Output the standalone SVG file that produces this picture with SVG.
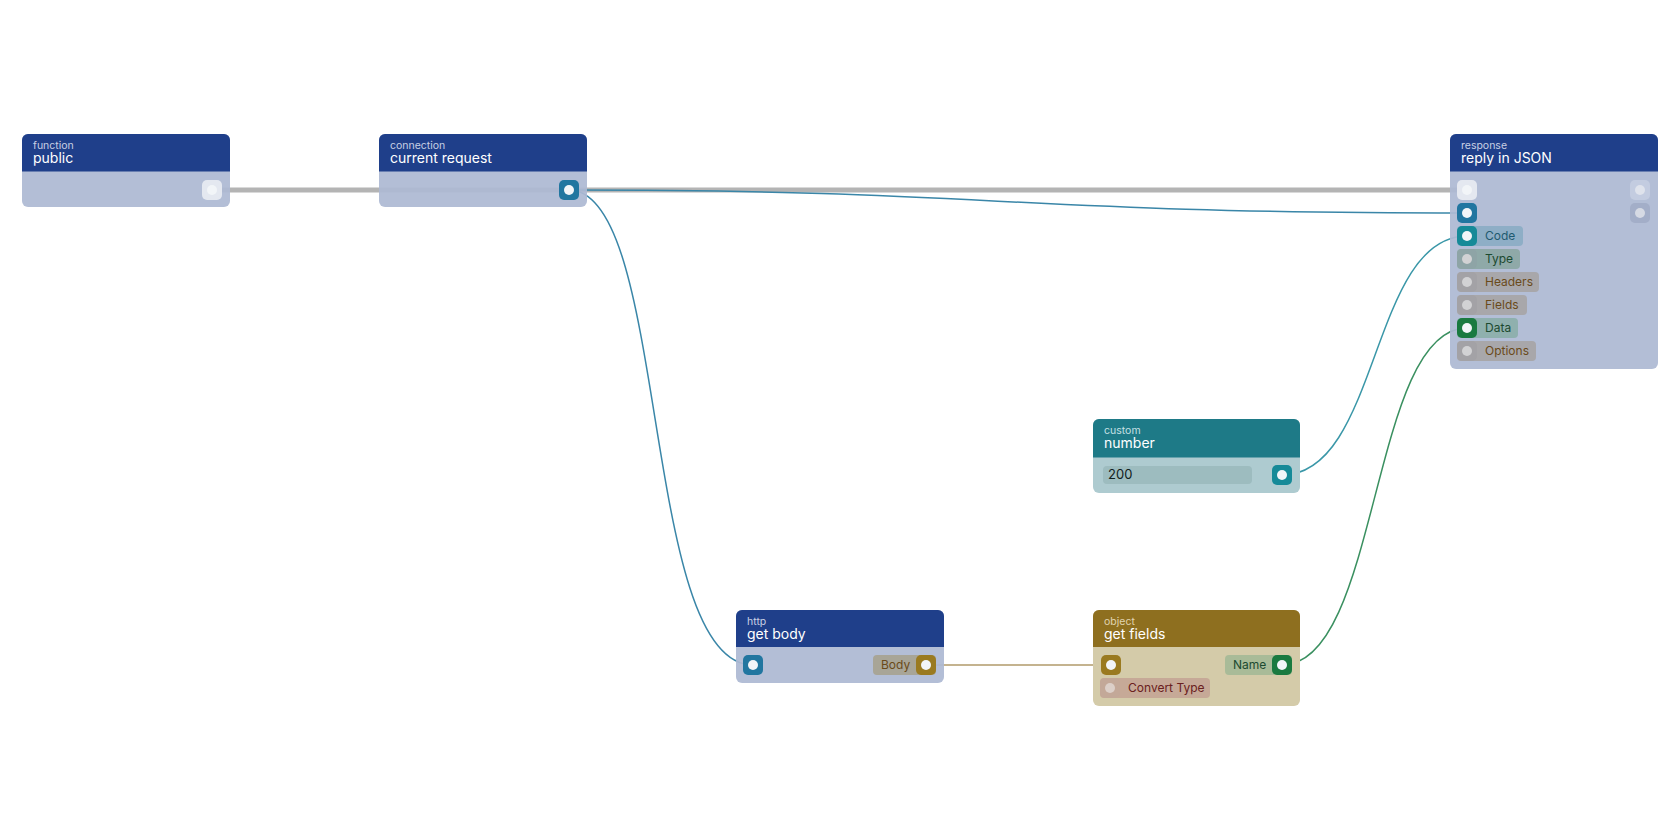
<svg xmlns="http://www.w3.org/2000/svg" width="1680" height="840" viewBox="0 0 1680 840">
<style>
text{font-family:Inter,"Noto Sans",sans-serif}
.k{font-size:10.5px;fill:#c8d0e4}
.t{font-size:14px;fill:#fff}
.l{font-size:12px}
.hb{fill:#1f3f8a}.bb{fill:#adb9d3;fill-opacity:0.93}
.c{fill:none}
.dot{fill:#f2f5f8}
.idot{fill:#d2d2d4}
</style>
<rect width="1680" height="840" fill="#fff"/>
<g id="connectors" class="c">
<path d="M212 190H1467" stroke="#b4b4b4" stroke-width="5"/>
<path d="M569 190C1000 190 1000 213 1467 213" stroke="#3a86a8" stroke-width="1.5"/>
<path d="M569 190C670 190 640 665 753 665" stroke="#3a86a8" stroke-width="1.5"/>
<path d="M1282 475C1380 475 1370 236 1467 236" stroke="#3a97a8" stroke-width="1.5"/>
<path d="M926 665H1111" stroke="#b09a6a" stroke-width="1.5"/>
<path d="M1282 665C1380 665 1370 328 1467 328" stroke="#3a9060" stroke-width="1.5"/>
</g>
<g id="n-public">
<rect x="22" y="134" width="208" height="73" rx="6" class="bb"/>
<path d="M22 171.5V140a6 6 0 0 1 6-6h196a6 6 0 0 1 6 6v31.5z" class="hb"/>
<text x="33" y="149" class="k">function</text><text x="33" y="163" class="t">public</text>
<rect x="202" y="180" width="20" height="20" rx="5" fill="#e4e8f0"/><circle cx="212" cy="190" r="5" class="dot"/>
</g>
<g id="n-request">
<rect x="379" y="134" width="208" height="73" rx="6" class="bb"/>
<path d="M379 171.5V140a6 6 0 0 1 6-6h196a6 6 0 0 1 6 6v31.5z" class="hb"/>
<text x="390" y="149" class="k">connection</text><text x="390" y="163" class="t">current request</text>
<rect x="559" y="180" width="20" height="20" rx="5" fill="#2176a0"/><circle cx="569" cy="190" r="5" class="dot"/>
</g>
<g id="n-response">
<rect x="1450" y="134" width="208" height="235" rx="6" class="bb"/>
<path d="M1450 171.5V140a6 6 0 0 1 6-6h196a6 6 0 0 1 6 6v31.5z" class="hb"/>
<text x="1461" y="149" class="k">response</text><text x="1461" y="163" class="t">reply in JSON</text>
<rect x="1457" y="180" width="20" height="20" rx="5" fill="#e4e8f0"/><circle cx="1467" cy="190" r="5" class="dot"/>
<rect x="1457" y="203" width="20" height="20" rx="5" fill="#2176a0"/><circle cx="1467" cy="213" r="5" class="dot"/>
<rect x="1630" y="180" width="20" height="20" rx="5" fill="#c3cce0"/><circle cx="1640" cy="190" r="5" fill="#dfe3ec"/>
<rect x="1630" y="203" width="20" height="20" rx="5" fill="#a3aec8"/><circle cx="1640" cy="213" r="5" fill="#d6dae4"/>
<rect x="1457" y="226" width="66" height="20" rx="4" fill="#8eaec6"/>
<rect x="1457" y="226" width="20" height="20" rx="5" fill="#168a98"/><circle cx="1467" cy="236" r="5" class="dot"/>
<text x="1485" y="240" class="l" fill="#1f5a70">Code</text>
<rect x="1457" y="249" width="63" height="20" rx="4" fill="#8fa9a8"/>
<rect x="1457" y="249" width="20" height="20" rx="5" fill="#8ea4a6"/><circle cx="1467" cy="259" r="5" class="idot"/>
<text x="1485" y="263" class="l" fill="#1c4a30">Type</text>
<rect x="1457" y="272" width="82" height="20" rx="4" fill="#a8a7aa"/>
<rect x="1457" y="272" width="20" height="20" rx="5" fill="#a3a2a6"/><circle cx="1467" cy="282" r="5" class="idot"/>
<text x="1485" y="286" class="l" fill="#6a4a1a">Headers</text>
<rect x="1457" y="295" width="70" height="20" rx="4" fill="#a8a7aa"/>
<rect x="1457" y="295" width="20" height="20" rx="5" fill="#a3a2a6"/><circle cx="1467" cy="305" r="5" class="idot"/>
<text x="1485" y="309" class="l" fill="#6a4a1a">Fields</text>
<rect x="1457" y="318" width="61" height="20" rx="4" fill="#8fb0ae"/>
<rect x="1457" y="318" width="20" height="20" rx="5" fill="#1a7a40"/><circle cx="1467" cy="328" r="5" class="dot"/>
<text x="1485" y="332" class="l" fill="#1c4a30">Data</text>
<rect x="1457" y="341" width="79" height="20" rx="4" fill="#a8a7aa"/>
<rect x="1457" y="341" width="20" height="20" rx="5" fill="#a3a2a6"/><circle cx="1467" cy="351" r="5" class="idot"/>
<text x="1485" y="355" class="l" fill="#6a4a1a">Options</text>
</g>
<g id="n-number">
<rect x="1093" y="419" width="207" height="74" rx="6" fill="#aecbd0"/>
<path d="M1093 457.5V425a6 6 0 0 1 6-6h195a6 6 0 0 1 6 6v32.5z" fill="#1e7a87"/>
<text x="1104" y="434" class="k" style="fill:#c6e0e4">custom</text><text x="1104" y="448" class="t">number</text>
<rect x="1103" y="466" width="149" height="18" rx="4" fill="#9dbcbf"/>
<text x="1108" y="479" font-size="13" fill="#102020">200</text>
<rect x="1272" y="465" width="20" height="20" rx="5" fill="#168a98"/><circle cx="1282" cy="475" r="5" class="dot"/>
</g>
<g id="n-body">
<rect x="736" y="610" width="208" height="73" rx="6" class="bb"/>
<path d="M736 647V616a6 6 0 0 1 6-6h196a6 6 0 0 1 6 6v31z" class="hb"/>
<text x="747" y="625" class="k">http</text><text x="747" y="639" class="t">get body</text>
<rect x="743" y="655" width="20" height="20" rx="5" fill="#2176a0"/><circle cx="753" cy="665" r="5" class="dot"/>
<rect x="873" y="655" width="63" height="20" rx="4" fill="#a8a597"/>
<text x="881" y="669" class="l" fill="#6a4a1a">Body</text>
<rect x="916" y="655" width="20" height="20" rx="5" fill="#9a7a20"/><circle cx="926" cy="665" r="5" class="dot"/>
</g>
<g id="n-fields">
<rect x="1093" y="610" width="207" height="96" rx="6" fill="#d4cba9"/>
<path d="M1093 647V616a6 6 0 0 1 6-6h195a6 6 0 0 1 6 6v31z" fill="#8e6f1f"/>
<text x="1104" y="625" class="k" style="fill:#e0d4b0">object</text><text x="1104" y="639" class="t">get fields</text>
<rect x="1101" y="655" width="20" height="20" rx="5" fill="#9a7a20"/><circle cx="1111" cy="665" r="5" class="dot"/>
<rect x="1225" y="655" width="67" height="20" rx="4" fill="#a9bb98"/>
<text x="1233" y="669" class="l" fill="#1c4a30">Name</text>
<rect x="1272" y="655" width="20" height="20" rx="5" fill="#1a7a40"/><circle cx="1282" cy="665" r="5" class="dot"/>
<rect x="1100" y="678" width="110" height="20" rx="4" fill="#c6a997"/>
<rect x="1100" y="678" width="20" height="20" rx="5" fill="#c3a898"/><circle cx="1110" cy="688" r="5" fill="#dccfc8"/>
<text x="1128" y="692" class="l" fill="#6a2020">Convert Type</text>
</g>
</svg>
